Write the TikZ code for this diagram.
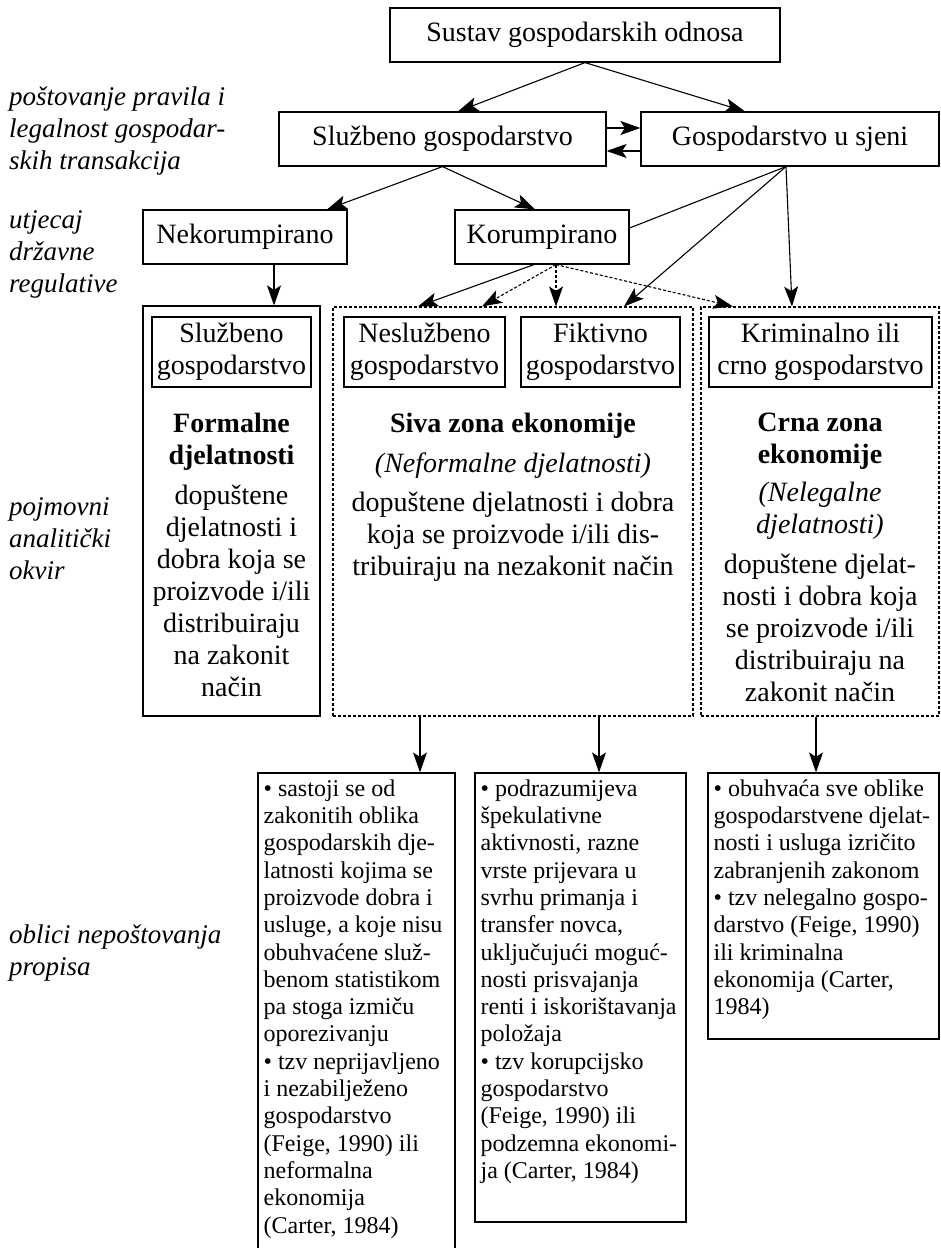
\documentclass[tikz,border=0pt]{standalone}
\usepackage{fontspec}
\setmainfont{Liberation Serif}
\usetikzlibrary{arrows.meta,calc}
\tikzset{
 box/.style={draw, line width=1.2pt, inner sep=0pt, align=center, font=\fontsize{28}{32}\selectfont},
 plainbox/.style={draw, line width=1.2pt, inner sep=0pt},
 dbox/.style={draw, line width=1.1pt, dash pattern=on 3pt off 2pt, inner sep=0pt},
 arr/.style={line width=1.1pt, -{Stealth[length=20pt,width=14pt,inset=4.5pt]}},
 darr/.style={arr, dash pattern=on 3pt off 2pt},
 plainline/.style={line width=1.1pt},
 lbl/.style={font=\fontsize{27}{32}\selectfont\itshape, align=left, anchor=north west, inner sep=0pt},
 txt/.style={font=\fontsize{28}{32}\selectfont, align=center, anchor=north, inner sep=0pt},
 btxt/.style={font=\fontsize{24}{27.3}\selectfont, align=left, anchor=north west, inner sep=0pt},
}
\begin{document}
\begin{tikzpicture}[x=1pt,y=-1pt]
\useasboundingbox (0,0) rectangle (941,1248);
\fill[white] (0,0) rectangle (941,1248);

% left labels
\node[lbl] (l1) at (9,87) {poštovanje pravila i\\legalnost gospodar-\\skih transakcija};
\node[lbl] (l2) at (9,210) {utjecaj\\državne\\regulative};
\node[lbl] (l3) at (9,497) {pojmovni\\analitički\\okvir};
\node[lbl] (l4) at (9,925) {oblici nepoštovanja\\propisa};

% upper boxes
\node[box, minimum width=390pt, minimum height=54pt] (top) at (585,35) {Sustav gospodarskih odnosa};
\node[box, minimum width=327pt, minimum height=54pt] (slu) at (442.5,139) {Službeno gospodarstvo};
\node[box, minimum width=298pt, minimum height=54pt] (sjeni) at (790,139) {Gospodarstvo u sjeni};
\node[box, minimum width=204pt, minimum height=54pt] (nekor) at (245,237) {Nekorumpirano};
\node[box, minimum width=174pt, minimum height=54pt] (kor) at (542,237) {Korumpirano};

% column frames
\node[plainbox, minimum width=177pt, minimum height=410pt] (formal) at (231.5,511) {};
\node[dbox, minimum width=360pt, minimum height=409pt] (siva) at (513,511.5) {};
\node[dbox, minimum width=238pt, minimum height=409pt] (crna) at (820,511.5) {};

% inner boxes
\node[box, minimum width=159pt, minimum height=70pt] (slu2) at (231.5,352) {Službeno\\gospodarstvo};
\node[box, minimum width=161pt, minimum height=70pt] (nesl) at (424.5,352) {Neslužbeno\\gospodarstvo};
\node[box, minimum width=159pt, minimum height=70pt] (fikt) at (600.5,352) {Fiktivno\\gospodarstvo};
\node[box, minimum width=223pt, minimum height=70pt] (krim) at (820.5,352) {Kriminalno ili\\crno gospodarstvo};

% column texts
\node[txt] (ftxt) at (231.5,413) {\textbf{Formalne}\\\textbf{djelatnosti}\\[8pt]dopuštene\\djelatnosti i\\dobra koja se\\proizvode i/ili\\distribuiraju\\na zakonit\\način};
\node[txt] (stxt) at (513,413) {\textbf{Siva zona ekonomije}\\[8pt]\textit{(Neformalne djelatnosti)}\\[7pt]dopuštene djelatnosti i dobra\\koja se proizvode i/ili dis-\\tribuiraju na nezakonit način};
\node[txt] (ctxt) at (820,413) {\textbf{Crna zona}\\\textbf{ekonomije}\\[6pt]\textit{(Nelegalne}\\\textit{djelatnosti)}\\[8pt]dopuštene djelat-\\nosti i dobra koja\\se proizvode i/ili\\distribuiraju na\\zakonit način};

% bottom boxes
\node[plainbox, minimum width=197pt, minimum height=477pt] (b1) at (356.5,1011.5) {};
\node[plainbox, minimum width=211pt, minimum height=449pt] (b2) at (580.5,997.5) {};
\node[plainbox, minimum width=231pt, minimum height=266pt] (b3) at (823.5,906) {};

\node[btxt] (b1t) at ($(b1.north west)+(6,7)$) {• sastoji se od\\zakonitih oblika\\gospodarskih dje-\\latnosti kojima se\\proizvode dobra i\\usluge, a koje nisu\\obuhvaćene služ-\\benom statistikom\\pa stoga izmiču\\oporezivanju\\• tzv neprijavljeno\\i nezabilježeno\\gospodarstvo\\(Feige, 1990) ili\\neformalna\\ekonomija\\(Carter, 1984)};
\node[btxt] (b2t) at ($(b2.north west)+(6,7)$) {• podrazumijeva\\špekulativne\\aktivnosti, razne\\vrste prijevara u\\svrhu primanja i\\transfer novca,\\uključujući moguć-\\nosti prisvajanja\\renti i iskorištavanja\\položaja\\• tzv korupcijsko\\gospodarstvo\\(Feige, 1990) ili\\podzemna ekonomi-\\ja (Carter, 1984)};
\node[btxt] (b3t) at ($(b3.north west)+(6,7)$) {• obuhvaća sve oblike\\gospodarstvene djelat-\\nosti i usluga izričito\\zabranjenih zakonom\\• tzv nelegalno gospo-\\darstvo (Feige, 1990)\\ili kriminalna\\ekonomija (Carter,\\1984)};

% connectors
\draw[arr] (top.south) -- ($(slu.north)+(15.5,0)$);
\draw[arr] (top.south) -- ($(sjeni.north)+(-45,0)$);
\draw[arr] ($(slu.east)+(0,-11)$) -- ($(sjeni.west)+(0,-11)$);
\draw[arr] ($(sjeni.west)+(0,12)$) -- ($(slu.east)+(0,12)$);
\draw[arr] (slu.south) -- ($(nekor.north)+(82,0)$);
\draw[arr] (slu.south) -- ($(kor.north)+(-7,0)$);
\draw[plainline] ($(sjeni.south)+(-4,0)$) -- ($(kor.east)+(0,-9)$);
\draw[arr] ($(sjeni.south)+(-4,0)$) -- ($(siva.north)+(111,0)$);
\draw[arr] ($(sjeni.south)+(-4,0)$) -- ($(crna.north)+(-28,0)$);
\draw[arr] ($(kor.south)+(-8,0)$) -- ($(siva.north)+(-95,0)$);
\draw[darr] ($(kor.south)+(14,0)$) -- ($(siva.north)+(-31,0)$);
\draw[darr] ($(kor.south)+(14,0)$) -- ($(siva.north)+(43,0)$);
\draw[darr] ($(kor.south)+(14,0)$) -- ($(crna.north)+(-87,0)$);
\draw[arr] ($(nekor.south)+(29,0)$) -- ($(formal.north)+(42.5,0)$);
\draw[arr] ($(siva.south)+(-93,0)$) -- ($(b1.north)+(63.5,0)$);
\draw[arr] ($(siva.south)+(86,0)$) -- ($(b2.north)+(18.5,0)$);
\draw[arr] ($(crna.south)+(-4,0)$) -- ($(b3.north)+(-7.5,0)$);
\end{tikzpicture}
\end{document}
